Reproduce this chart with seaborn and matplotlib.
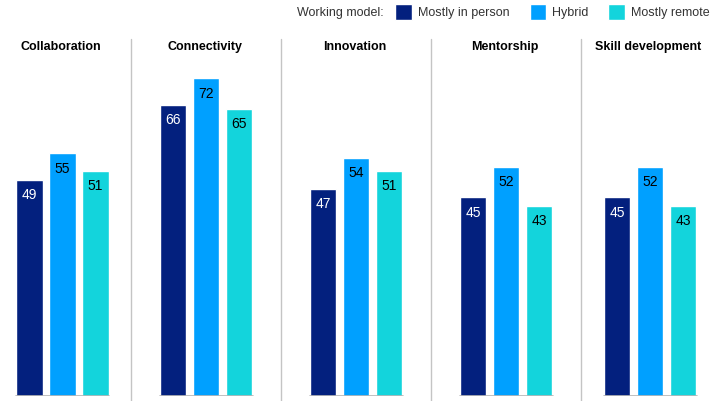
import pandas as pd
import matplotlib.pyplot as plt
from matplotlib.lines import Line2D
import seaborn as sns

skills = ["Collaboration", "Connectivity", "Innovation", "Mentorship", "Skill development"]
models = ["Mostly in person", "Hybrid", "Mostly remote"]
in_person = [49, 66, 47, 45, 45]
hybrid = [55, 72, 54, 52, 52]
remote = [51, 65, 51, 43, 43]
colors = ["#03207e", "#00a0ff", "#13d4dc"]
label_colors = ["white", "black", "black"]

df = pd.DataFrame({
    "skill": skills * 3,
    "model": [m for m in models for _ in skills],
    "value": in_person + hybrid + remote,
})

sns.set_style("white")
plt.rcParams["font.family"] = ["Liberation Sans", "DejaVu Sans"]

W, H = 716, 401
fig = plt.figure(figsize=(W / 100, H / 100), dpi=100)

# panel centres in pixels
centers = [62.5, 206, 356, 506, 650]
panel_w = 150
handles, labels = None, None

for i, skill in enumerate(skills):
    ax = fig.add_axes([(centers[i] - panel_w / 2) / W, 5 / H, panel_w / W, 353 / H])
    sub = df[df["skill"] == skill]
    sns.barplot(data=sub, x="skill", y="value", hue="model", hue_order=models,
                palette=colors, width=0.66, gap=0.21, saturation=1,
                ax=ax, legend=(i == 0))
    if i == 0:
        handles, labels = ax.get_legend_handles_labels()
        ax.legend_.remove()
    ax.set_xlim(-0.5, 0.5)
    ax.set_ylim(0, 80)
    ax.set_axis_off()
    ax.axhline(0, xmin=0.19, xmax=0.81, color="#b5b5b5", lw=1.2)
    for cont, c in zip(ax.containers, label_colors):
        ax.bar_label(cont, padding=-16, color=c, fontsize=10)
    fig.text((centers[i] - 1.5) / W, 1 - 47 / H, skill, ha="center", va="center",
             fontsize=9, fontweight="bold", color="black")

for x in [131, 281, 431, 581]:
    fig.add_artist(Line2D([x / W, x / W], [0, 1 - 39 / H], color="#c4c4c4", lw=1))

fig.text(384 / W, 1 - 13 / H, "Working model:", ha="right", va="center",
         fontsize=9, color="#333333")
fig.legend(handles, labels, loc="upper right", bbox_to_anchor=(717 / W, 1.008),
           ncol=3, frameon=False, fontsize=9, handlelength=1.35, handleheight=1.5,
           handletextpad=0.45, columnspacing=1.6, borderaxespad=0.2,
           labelcolor="#333333")

fig.savefig("out.png", dpi=100)
